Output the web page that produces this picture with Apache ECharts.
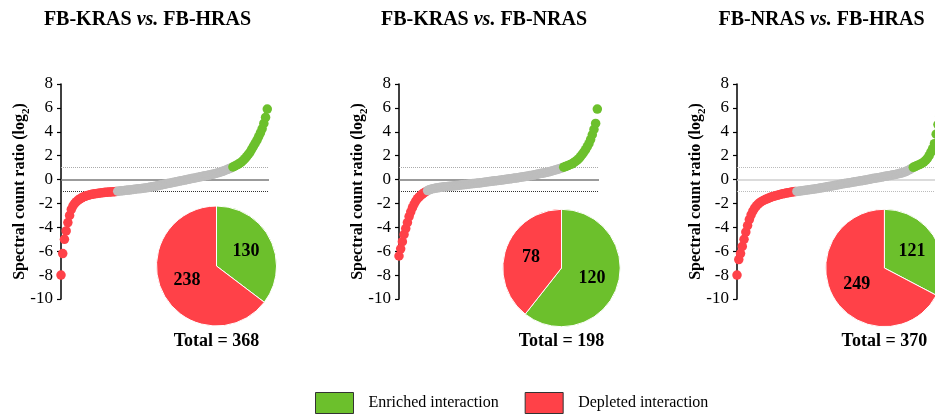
<!DOCTYPE html>
<html><head><meta charset="utf-8">
<script src="https://cdn.jsdelivr.net/npm/echarts@6/dist/echarts.min.js"></script>
<style>html,body{margin:0;padding:0;background:#fff}#c{width:935px;height:416px}</style>
</head><body><div id="c"></div>
<script>
// ---------- data ----------
const panelPairs = [['FB-KRAS', 'FB-HRAS'], ['FB-KRAS', 'FB-NRAS'], ['FB-NRAS', 'FB-HRAS']];
// sorted spectral count ratios (log2), ranked low to high
const ratioKRASvsHRAS = [
  -8.0, -6.2, -5.0, -4.3, -3.6, -3.0, -2.5, -2.2, -2.0, -1.85, -1.72, -1.62, -1.53, -1.46, -1.4, -1.35, -1.31,
  -1.27, -1.24, -1.21, -1.18, -1.16, -1.14, -1.12, -1.1, -1.09, -1.07, -1.06, -1.05, -1.04, -1.03, -1.02, -1.01,
  -0.98, -0.96, -0.94, -0.93, -0.91, -0.9, -0.88, -0.87, -0.85, -0.83, -0.81, -0.79, -0.77, -0.76, -0.74, -0.72,
  -0.7, -0.68, -0.66, -0.63, -0.61, -0.58, -0.55, -0.52, -0.49, -0.46, -0.43, -0.4, -0.37, -0.34, -0.31, -0.28,
  -0.25, -0.22, -0.19, -0.16, -0.13, -0.1, -0.07, -0.04, -0.01, 0.02, 0.05, 0.08, 0.11, 0.14, 0.17, 0.2, 0.23,
  0.26, 0.29, 0.32, 0.35, 0.38, 0.41, 0.44, 0.47, 0.51, 0.55, 0.59, 0.64, 0.69, 0.74, 0.8, 0.86, 0.92, 0.98,
  1.05, 1.12, 1.2, 1.28, 1.37, 1.47, 1.6, 1.75, 1.92, 2.1, 2.3, 2.55, 2.8, 3.05, 3.3, 3.6, 3.9, 4.25, 4.7, 5.2, 5.9
];
const ratioKRASvsNRAS = [
  -6.4, -5.8, -5.2, -4.6, -4.1, -3.6, -3.1, -2.7, -2.35, -2.05, -1.8, -1.6, -1.45, -1.32, -1.2, -1.1, -1.02,
  -0.92, -0.86, -0.81, -0.77, -0.74, -0.71, -0.69, -0.67, -0.65, -0.63, -0.61,
  -0.6, -0.58, -0.57, -0.55, -0.54, -0.52, -0.5, -0.49, -0.47, -0.45, -0.44, -0.42, -0.41, -0.39, -0.37, -0.36,
  -0.34, -0.32, -0.31, -0.29, -0.28, -0.26, -0.24, -0.22, -0.2, -0.18, -0.17, -0.15, -0.13, -0.11, -0.09, -0.07,
  -0.06, -0.04, -0.02, 0.0, 0.02, 0.04, 0.06, 0.07, 0.1, 0.12, 0.14, 0.16, 0.19, 0.21, 0.23, 0.25, 0.28, 0.3,
  0.33, 0.35, 0.38, 0.41, 0.44, 0.47, 0.5, 0.52, 0.55, 0.58, 0.61, 0.65, 0.68, 0.72, 0.76, 0.8, 0.84, 0.89, 0.93, 0.98,
  1.04, 1.09, 1.14, 1.2, 1.26, 1.32, 1.42, 1.52, 1.62, 1.75, 1.92, 2.1, 2.3, 2.5, 2.75, 3.0, 3.35, 3.75, 4.2, 4.7, 5.9
];
const ratioNRASvsHRAS = [
  -8.0, -6.7, -6.2, -5.6, -5.0, -4.4, -3.85, -3.35, -2.95, -2.65, -2.4, -2.2, -2.05, -1.93, -1.83, -1.75, -1.68,
  -1.61, -1.55, -1.49, -1.44, -1.39, -1.35, -1.31, -1.27, -1.23, -1.19, -1.16, -1.13, -1.1, -1.08, -1.05, -1.03, -1.01,
  -0.99, -0.97, -0.95, -0.93, -0.91, -0.89, -0.87, -0.85, -0.83, -0.81, -0.79, -0.76, -0.74, -0.71, -0.69, -0.66,
  -0.64, -0.61, -0.58, -0.55, -0.53, -0.5, -0.47, -0.45, -0.42, -0.39, -0.36, -0.34, -0.31, -0.29, -0.26, -0.24,
  -0.21, -0.19, -0.16, -0.14, -0.11, -0.09, -0.06, -0.03, -0.01, 0.02, 0.05, 0.08, 0.1, 0.13, 0.16, 0.18, 0.21,
  0.24, 0.27, 0.29, 0.32, 0.35, 0.38, 0.41, 0.43, 0.47, 0.5, 0.54, 0.58, 0.63, 0.69, 0.76, 0.84, 0.93,
  1.02, 1.09, 1.16, 1.22, 1.29, 1.37, 1.47, 1.6, 1.77, 2.0, 2.3, 2.6, 3.0, 3.8, 4.6, 5.3, 6.0, 6.6
];
const enrichedCounts = [130, 120, 121];
const depletedCounts = [238, 78, 249];
const totalCounts = [368, 198, 370];
const foldThresholds = [0, 1, -1];
const yTickMin = -10, yTickMax = 8, yTickStep = 2;
const legendNames = ['Enriched interaction', 'Depleted interaction'];

// ---------- styling / layout ----------
const GREEN = '#6cc02c', RED = '#ff4148', GRAY = '#bdbdbd';
const FONT = '"Liberation Serif", "Times New Roman", serif';
const ratios = [ratioKRASvsHRAS, ratioKRASvsNRAS, ratioNRASvsHRAS];
const layout = [
  { left: 61, width: 208, pie: [216.5, 266], r: 60, title: 147.5 },
  { left: 399, width: 200, pie: [561.5, 268], r: 58.7, title: 484 },
  { left: 737, width: 208, pie: [884.4, 268], r: 58.7, title: 821.5 }
];
const refStyles = [
  [{ color: '#7a7a7a', width: 1.5, type: 'solid' }, { color: '#aaaaaa', width: 1, type: 'dotted' }, { color: '#333', width: 1, type: 'dotted' }],
  [{ color: '#7a7a7a', width: 1.5, type: 'solid' }, { color: '#aaaaaa', width: 1, type: 'dotted' }, { color: '#333', width: 1, type: 'dotted' }],
  [{ color: '#cfcfcf', width: 1.5, type: 'solid' }, { color: '#bbbbbb', width: 1, type: 'dotted' }, { color: '#bbbbbb', width: 1, type: 'dotted' }]
];

const grid = [], xAxis = [], yAxis = [], series = [], graphic = [];
layout.forEach((L, k) => {
  grid.push({ left: L.left, top: 84, width: L.width, height: 215, containLabel: false, outerBoundsMode: 'none' });
  xAxis.push({ gridIndex: k, type: 'value', min: 0, max: ratios[k].length, show: false });
  yAxis.push({
    gridIndex: k, type: 'value', min: yTickMin, max: yTickMax, interval: yTickStep,
    splitLine: { show: false },
    axisLine: { show: true, lineStyle: { color: '#000', width: 1.5 } },
    axisTick: { show: true, length: 4, lineStyle: { color: '#000', width: 1.2 } },
    axisLabel: { color: '#000', fontFamily: FONT, fontSize: 17, margin: 8 },
    name: '{a|Spectral count ratio (log}{s|2}{a|)}',
    nameLocation: 'middle', nameGap: 29, nameRotate: 90, nameMoveOverlap: false,
    nameTextStyle: {
      rich: {
        a: { fontFamily: FONT, fontWeight: 'bold', fontSize: 16, color: '#000', lineHeight: 20, verticalAlign: 'top' },
        s: { fontFamily: FONT, fontWeight: 'bold', fontSize: 11, color: '#000', lineHeight: 11, verticalAlign: 'bottom' }
      }
    }
  });
});
layout.forEach((L, k) => {
  series.push({
    type: 'scatter', xAxisIndex: k, yAxisIndex: k, z: 3,
    symbolSize: 9.5, itemStyle: { opacity: 1 },
    data: ratios[k].map((v, i) => [i, v]),
    markLine: {
      silent: true, symbol: ['none', 'none'], label: { show: false }, z: 1,
      data: foldThresholds.map((t, j) => ({ yAxis: t, lineStyle: refStyles[k][j] }))
    }
  });
});
layout.forEach((L, k) => {
  series.push({
    type: 'pie', center: L.pie, radius: L.r, startAngle: 90, clockwise: true, z: 4,
    itemStyle: { borderColor: '#fff', borderWidth: 1 },
    label: { show: true, position: 'inside', formatter: '{c}', color: '#000', fontFamily: FONT, fontWeight: 'bold', fontSize: 18 },
    labelLine: { show: false },
    emphasis: { disabled: true },
    data: [
      { name: legendNames[0], value: enrichedCounts[k], itemStyle: { color: GREEN } },
      { name: legendNames[1], value: depletedCounts[k], itemStyle: { color: RED } }
    ]
  });
  graphic.push({
    type: 'text', x: L.title, y: 20,
    style: {
      text: '{b|' + panelPairs[k][0] + ' }{i|vs.}{b| ' + panelPairs[k][1] + '}',
      align: 'center', verticalAlign: 'middle', textAlign: 'center', textVerticalAlign: 'middle',
      rich: {
        b: { fontFamily: FONT, fontWeight: 'bold', fontSize: 20, fill: '#000' },
        i: { fontFamily: FONT, fontWeight: 'bold', fontStyle: 'italic', fontSize: 20, fill: '#000' }
      }
    }
  });
  graphic.push({
    type: 'text', x: L.pie[0], y: 341,
    style: {
      text: 'Total = ' + totalCounts[k],
      align: 'center', verticalAlign: 'middle', textAlign: 'center', textVerticalAlign: 'middle',
      fontFamily: FONT, fontWeight: 'bold', fontSize: 18, fill: '#000'
    }
  });
});

const chart = echarts.init(document.getElementById('c'), null, { renderer: 'canvas' });
chart.setOption({
  animation: false,
  backgroundColor: '#fff',
  grid, xAxis, yAxis, series, graphic,
  visualMap: {
    type: 'piecewise', show: false, seriesIndex: [0, 1, 2], dimension: 1,
    pieces: [{ lt: -1, color: RED }, { gte: -1, lte: 1, color: GRAY }, { gt: 1, color: GREEN }]
  },
  legend: {
    data: legendNames, left: 315, top: 392, orient: 'horizontal', padding: 0,
    itemWidth: 38, itemHeight: 21, itemGap: 26, icon: 'rect', selectedMode: false,
    itemStyle: { borderColor: '#333', borderWidth: 1 },
    textStyle: { fontFamily: FONT, fontSize: 16, color: '#000', padding: [0, 0, 0, 10] }
  }
});
</script></body></html>
